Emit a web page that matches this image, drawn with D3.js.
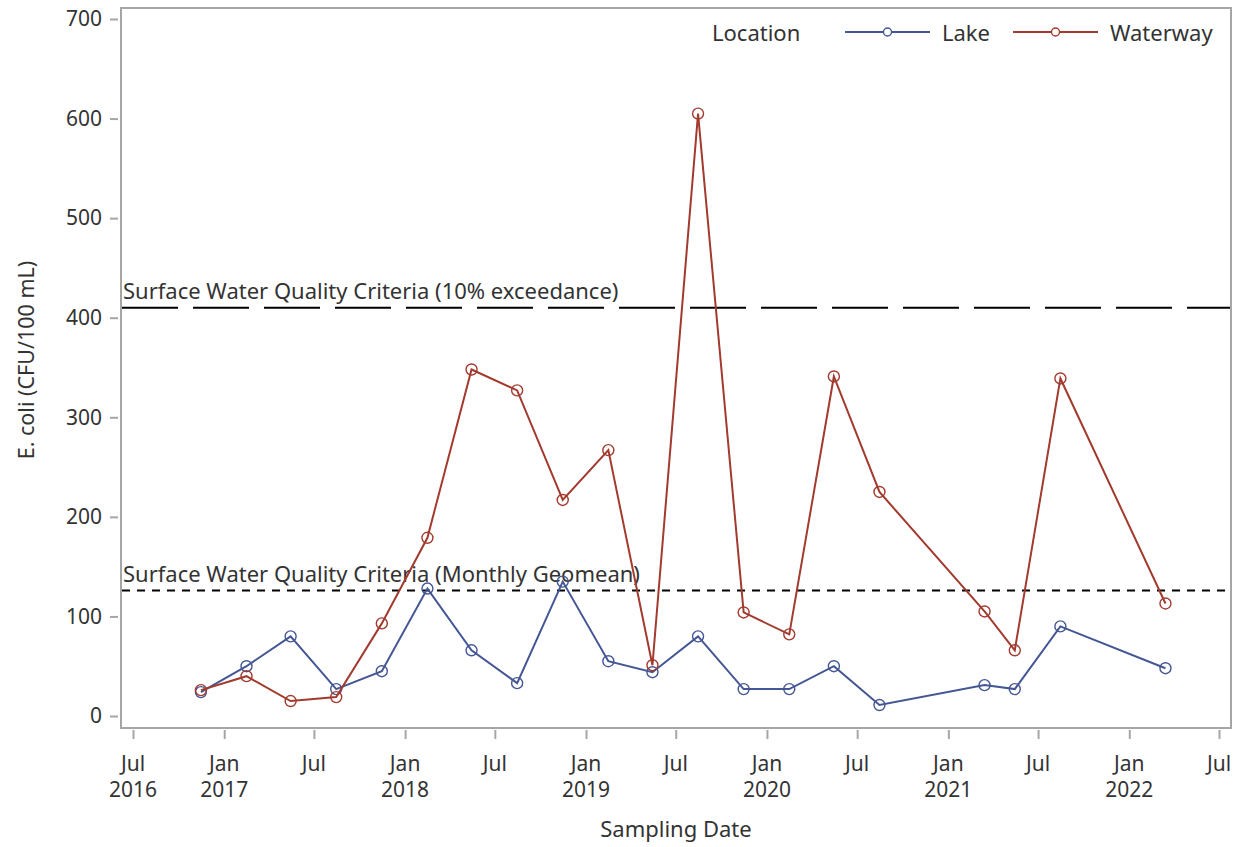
<!DOCTYPE html>
<html>
<head>
<meta charset="utf-8">
<script src="https://cdn.jsdelivr.net/npm/d3@7"></script>
<style>
  body { margin: 0; background: #fff; }
  text { font-family: "Noto Sans", sans-serif; fill: #333; }
</style>
</head>
<body>
<div id="chart"></div>
<script>
// DATA
const sampleDates = [
  "2016-11-15", "2017-02-15", "2017-05-15", "2017-08-15", "2017-11-15",
  "2018-02-15", "2018-05-15", "2018-08-15", "2018-11-15", "2019-02-15",
  "2019-05-15", "2019-08-15", "2019-11-15", "2020-02-15", "2020-05-15",
  "2020-08-15", "2021-03-15", "2021-05-15", "2021-08-15", "2022-03-15"
];
const lakeValues = [24, 50, 80, 27, 45, 128, 66, 33, 135, 55, 44, 80, 27, 27, 50, 11, 31, 27, 90, 48];
const waterwayValues = [26, 40, 15, 19, 93, 179, 348, 327, 217, 267, 51, 605, 104, 82, 341, 225, 105, 66, 339, 113];
const seriesNames = ["Lake", "Waterway"];
const seriesColors = ["#445694", "#A23A2E"];
const refValues = [410, 126];
const refLabels = ["Surface Water Quality Criteria (10% exceedance)", "Surface Water Quality Criteria (Monthly Geomean)"];
const yTicks = [0, 100, 200, 300, 400, 500, 600, 700];
const xTickDates = ["2016-07-01", "2017-01-01", "2017-07-01", "2018-01-01", "2018-07-01", "2019-01-01",
  "2019-07-01", "2020-01-01", "2020-07-01", "2021-01-01", "2021-07-01", "2022-01-01", "2022-07-01"];

// CONSTANTS
const width = 1246,
    height = 847,
    plot = { left: 121, right: 1231, top: 8, bottom: 728 },
    tickFont = "21px",
    titleFont = "22px";

const parse = d3.utcParse("%Y-%m-%d");

const svg = d3.select("#chart")
    .append("svg")
    .attr("width", width)
    .attr("height", height);

// SCALES
const xScale = d3.scaleUtc()
    .domain([parse("2016-07-01"), parse("2022-07-01")])
    .range([133, 1219]);

const yScale = d3.scaleLinear()
    .domain([0, 700])
    .range([716, 19]);

// frame
svg.append("rect")
    .attr("x", plot.left)
    .attr("y", plot.top)
    .attr("width", plot.right - plot.left)
    .attr("height", plot.bottom - plot.top)
    .attr("fill", "none")
    .attr("stroke", "#a6a6a6")
    .attr("stroke-width", 2);

// y axis
const yAxis = d3.axisLeft(yScale)
    .tickValues(yTicks)
    .tickSize(8)
    .tickPadding(8)
    .tickSizeOuter(0);

const yG = svg.append("g")
    .attr("transform", `translate(${plot.left - 3},0)`)
    .call(yAxis);
yG.select(".domain").remove();
yG.selectAll(".tick line").attr("stroke", "#a6a6a6").attr("stroke-width", 2);
yG.selectAll(".tick text").style("font-size", tickFont).attr("fill", "#333")
    .style("font-family", '"Noto Sans", sans-serif');

// x axis
const monthFmt = d3.utcFormat("%b");
const xAxis = d3.axisBottom(xScale)
    .tickValues(xTickDates.map(parse))
    .tickSize(9)
    .tickFormat("")
    .tickSizeOuter(0);

const xG = svg.append("g")
    .attr("transform", `translate(0,${plot.bottom + 2})`)
    .call(xAxis);
xG.select(".domain").remove();
xG.selectAll(".tick line").attr("stroke", "#a6a6a6").attr("stroke-width", 2);

const xLabels = svg.append("g").selectAll("g")
    .data(xTickDates.map(parse))
    .join("g")
    .attr("transform", d => `translate(${xScale(d)},0)`);
xLabels.append("text")
    .attr("y", 763)
    .attr("text-anchor", "middle")
    .attr("dominant-baseline", "central")
    .style("font-size", tickFont)
    .text(d => monthFmt(d));
xLabels.filter((d, i) => i === 0 || d.getUTCMonth() === 0)
    .append("text")
    .attr("y", 789)
    .attr("text-anchor", "middle")
    .attr("dominant-baseline", "central")
    .style("font-size", tickFont)
    .text(d => d.getUTCFullYear());

// axis titles
svg.append("text")
    .attr("x", 676)
    .attr("y", 828)
    .attr("text-anchor", "middle")
    .attr("dominant-baseline", "central")
    .style("font-size", titleFont)
    .text("Sampling Date");

svg.append("text")
    .attr("transform", "translate(25,360) rotate(-90)")
    .attr("text-anchor", "middle")
    .attr("dominant-baseline", "central")
    .style("font-size", "21.5px")
    .text("E. coli (CFU/100 mL)");

// reference lines
const refDash = ["56,15", "8,7"];
refValues.forEach((v, i) => {
    svg.append("line")
        .attr("x1", plot.left + 1)
        .attr("x2", plot.right - 1)
        .attr("y1", yScale(v))
        .attr("y2", yScale(v))
        .attr("stroke", "#000")
        .attr("stroke-width", 2)
        .attr("stroke-dasharray", refDash[i]);
    svg.append("text")
        .attr("x", plot.left + 2)
        .attr("y", yScale(v) - 9)
        .style("font-size", "22px")
        .text(refLabels[i]);
});

// series
const series = [lakeValues, waterwayValues].map((vals, i) => ({
    name: seriesNames[i],
    color: seriesColors[i],
    values: vals.map((v, j) => ({ date: parse(sampleDates[j]), value: v }))
}));

const line = d3.line()
    .x(d => xScale(d.date))
    .y(d => yScale(d.value));

series.forEach(s => {
    svg.append("path")
        .datum(s.values)
        .attr("fill", "none")
        .attr("stroke", s.color)
        .attr("stroke-width", 2)
        .attr("d", line);
    svg.append("g").selectAll("circle")
        .data(s.values)
        .join("circle")
        .attr("cx", d => xScale(d.date))
        .attr("cy", d => yScale(d.value))
        .attr("r", 5.5)
        .attr("fill", "none")
        .attr("stroke", s.color)
        .attr("stroke-width", 1.4);
});

// legend
const legend = svg.append("g").attr("transform", "translate(0,32)");
legend.append("text")
    .attr("x", 712)
    .attr("dominant-baseline", "central")
    .style("font-size", titleFont)
    .text("Location");
const legendItems = legend.selectAll(".item")
    .data(series)
    .join("g")
    .attr("class", "item")
    .attr("transform", (d, i) => `translate(${[845, 1013][i]},0)`);
legendItems.append("line")
    .attr("x1", 0).attr("x2", 85)
    .attr("stroke", d => d.color)
    .attr("stroke-width", 2);
legendItems.append("circle")
    .attr("cx", 42.5)
    .attr("r", 4)
    .attr("fill", "#fff")
    .attr("stroke", d => d.color)
    .attr("stroke-width", 1.4);
legendItems.append("text")
    .attr("x", 97)
    .attr("dominant-baseline", "central")
    .style("font-size", titleFont)
    .text(d => d.name);
</script>
</body>
</html>
